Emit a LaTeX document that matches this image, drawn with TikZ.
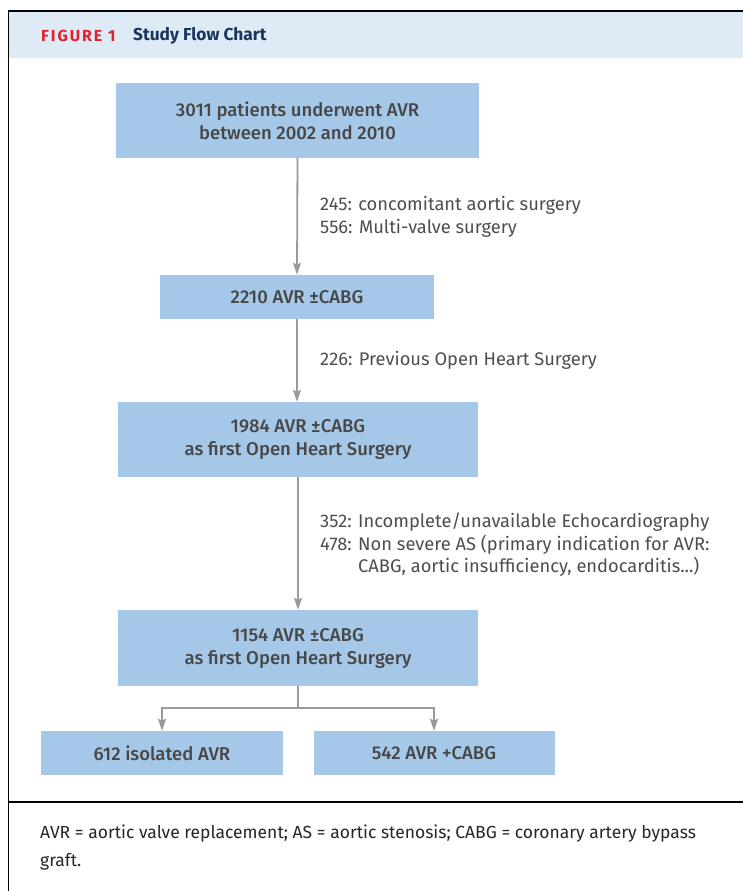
\documentclass[tikz,border=0pt]{standalone}
\usepackage{fontspec}
\setmainfont{Fira Sans}
\newfontfamily\medfont{Fira Sans Medium}
\usetikzlibrary{arrows.meta}
\definecolor{boxblue}{HTML}{A6C8E8}
\definecolor{headblue}{HTML}{DEEAF6}
\definecolor{figred}{HTML}{E5202E}
\definecolor{navy}{HTML}{1B365D}
\definecolor{boxtext}{HTML}{474747}
\definecolor{labeltext}{HTML}{4D4D4D}
\definecolor{arrowgray}{HTML}{9A9A9A}
\tikzset{
  flowbox/.style={rectangle, fill=boxblue, draw=none, inner sep=0pt, align=center,
    text=boxtext, font=\medfont\fontsize{18.5}{23}\selectfont},
  flowlabel/.style={anchor=west, inner sep=0pt, align=left, text=labeltext,
    font=\fontsize{18.3}{22.5}\selectfont},
  flowarrow/.style={draw=arrowgray, line width=1.8pt,
    -{Stealth[length=12pt,width=8pt,inset=2pt]}},
  flowline/.style={draw=arrowgray, line width=1.8pt},
}
\begin{document}
\begin{tikzpicture}[x=1pt,y=-1pt]
\useasboundingbox (0,0) rectangle (743,891);
% header band
\fill[headblue] (9,12) rectangle (743,58);
\draw[black, line width=1.5pt] (8.5,891) -- (8.5,11) -- (743,11);
\draw[black, line width=2pt] (8.5,802) -- (743,802);
\node[anchor=west, inner sep=0pt, text=figred, font=\fontsize{16}{18}\selectfont\bfseries] (fig) at (41,36) {\addfontfeature{LetterSpace=12}FIGURE 1};
\node[anchor=west, inner sep=0pt, text=navy, font=\fontsize{17.3}{20}\selectfont\bfseries] (title) at (133,36) {Study Flow Chart};
% boxes
\node[flowbox, minimum width=363pt, minimum height=75pt] (b1) at (297.5,120.5) {3011 patients underwent AVR\\between 2002 and 2010};
\node[flowbox, minimum width=274pt, minimum height=44pt] (b2) at (297,297) {2210 AVR ±CABG};
\node[flowbox, minimum width=360pt, minimum height=75pt] (b3) at (298,439.5) {1984 AVR ±CABG\\as first Open Heart Surgery};
\node[flowbox, minimum width=360pt, minimum height=76pt] (b4) at (298,648) {1154 AVR ±CABG\\as first Open Heart Surgery};
\node[flowbox, minimum width=242pt, minimum height=44pt] (b5) at (162,753) {612 isolated AVR};
\node[flowbox, minimum width=241pt, minimum height=44pt] (b6) at (434,753) {542 AVR +CABG};
% labels
\node[flowlabel] (l1) at (320,217) {245: concomitant aortic surgery\\556: Multi-valve surgery};
\node[flowlabel] (l2) at (320,360) {226: Previous Open Heart Surgery};
\node[flowlabel] (l3) at (320,545) {352: Incomplete/unavailable Echocardiography\\478: Non severe AS (primary indication for AVR:\\\hspace*{38pt}CABG, aortic insufficiency, endocarditis...)};
% arrows
\draw[flowarrow] (b1.south) -- (b2.north);
\draw[flowarrow] (b2.south) -- (b2.south |- b3.north);
\draw[flowarrow] (b3.south) -- (b4.north);
\coordinate (split) at (298,708);
\draw[flowline] (b4.south) -- (split);
\draw[flowarrow] (split) -| (b5.north);
\draw[flowarrow] (split) -| (b6.north);
% caption
\node[anchor=west, inner sep=0pt, align=left, text=black!85, font=\fontsize{17.5}{28}\selectfont] (cap) at (40,848) {AVR = aortic valve replacement; AS = aortic stenosis; CABG = coronary artery bypass\\graft.};
\end{tikzpicture}
\end{document}
